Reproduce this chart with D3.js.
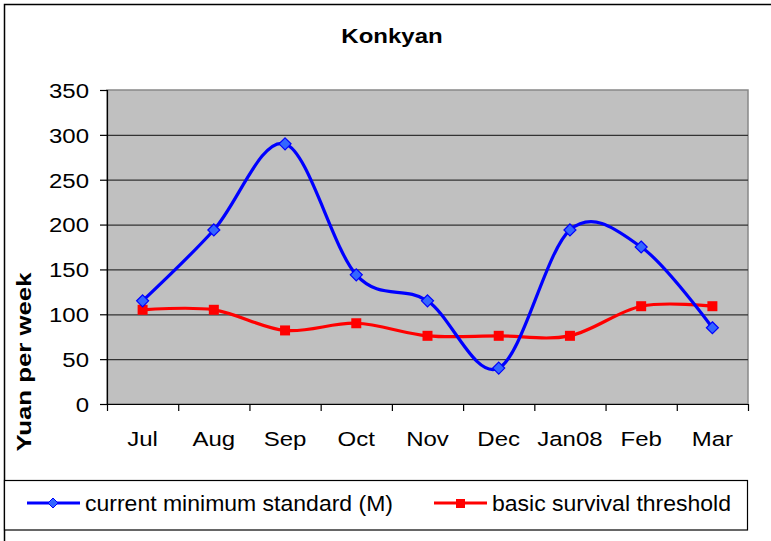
<!DOCTYPE html>
<html><head><meta charset="utf-8">
<script src="https://cdn.jsdelivr.net/npm/d3@7"></script>
<style>
html,body{margin:0;padding:0;background:#fff;}
svg text{font-family:"Liberation Sans",Arial,sans-serif;fill:#000;}
</style></head>
<body><svg id="c" width="771" height="541"></svg>
<script>
const categories = ["Jul","Aug","Sep","Oct","Nov","Dec","Jan08","Feb","Mar"];
const currentMinimum = [115,194,290,144,115,40,194,175,85];
const survivalThreshold = [105,105,82,90,76,76,76,109,109];
const yTicks = [0,50,100,150,200,250,300,350];
const seriesNames = ["current minimum standard (M)","basic survival threshold"];
const titleText = "Konkyan";
const yTitle = "Yuan per week";

const svg = d3.select("#c");
const M = {left:107, right:748, top:90, bottom:404};
const STRETCH = 1.17;

function stretch(sel, f){
  sel.each(function(){
    const l = this.getComputedTextLength();
    d3.select(this).attr("textLength", l*f).attr("lengthAdjust","spacingAndGlyphs");
  });
}

// outer border
svg.append("rect").attr("x",4.5).attr("y",4.5).attr("width",820).attr("height",620)
  .attr("fill","#fff").attr("stroke","#000").attr("stroke-width",1.5);

const x = d3.scaleBand().domain(categories).range([M.left,M.right]).paddingInner(0).paddingOuter(0);
const y = d3.scaleLinear().domain([0,350]).range([M.bottom,M.top]);
const cx = d => x(d) + x.bandwidth()/2;

// plot area
svg.append("rect").attr("x",M.left).attr("y",M.top).attr("width",M.right-M.left).attr("height",M.bottom-M.top)
  .attr("fill","#C0C0C0").attr("stroke","#888").attr("stroke-width",1.5);

// gridlines
svg.append("g").selectAll("line").data(yTicks.filter(v=>v>0 && v<350)).join("line")
  .attr("x1",M.left).attr("x2",M.right).attr("y1",d=>y(d)+0.5).attr("y2",d=>y(d)+0.5)
  .attr("stroke","#333").attr("stroke-width",1.2);

// y axis
const ya = svg.append("g").attr("transform",`translate(${M.left},0)`)
  .call(d3.axisLeft(y).tickValues(yTicks).tickSize(7).tickPadding(11));
ya.select(".domain").attr("stroke","#000").attr("stroke-width",1.2).attr("d",`M0.5,${M.top}V${M.bottom}`);
ya.selectAll(".tick line").attr("stroke","#000").attr("stroke-width",1.2);
ya.selectAll(".tick text").attr("font-size","20.5px").attr("font-family","Liberation Sans, Arial, sans-serif").attr("fill","#000").attr("dy","0.36em");
stretch(ya.selectAll(".tick text"), STRETCH);

// x axis line and boundary ticks
svg.append("line").attr("x1",M.left).attr("x2",M.right).attr("y1",M.bottom+0.5).attr("y2",M.bottom+0.5)
  .attr("stroke","#000").attr("stroke-width",1.2);
const bounds = categories.map(c=>x(c)).concat([x.range()[1]]);
svg.append("g").selectAll("line").data(bounds).join("line")
  .attr("x1",d=>d+0.5).attr("x2",d=>d+0.5).attr("y1",M.bottom).attr("y2",M.bottom+7)
  .attr("stroke","#000").attr("stroke-width",1.2);
const xl = svg.append("g").selectAll("text").data(categories).join("text")
  .attr("x",d=>cx(d)).attr("y",446).attr("text-anchor","middle").attr("font-size","20.5px").text(d=>d);
stretch(xl, STRETCH);

// title
const tt = svg.append("text").attr("x",392).attr("y",43).attr("text-anchor","middle")
  .attr("font-size","20.5px").attr("font-weight","bold").text(titleText);
stretch(tt, STRETCH);

// y title
svg.append("text").attr("transform","translate(31,362) rotate(-90)").attr("text-anchor","middle")
  .attr("font-size","21px").attr("font-weight","bold").attr("textLength",179).attr("lengthAdjust","spacingAndGlyphs").text(yTitle);

// lines
const line = d3.line().x((d,i)=>cx(categories[i])).y(d=>y(d)).curve(d3.curveCatmullRom.alpha(0));
svg.append("path").datum(survivalThreshold).attr("d",line).attr("fill","none").attr("stroke","#FF0000").attr("stroke-width",3.2);
svg.append("path").datum(currentMinimum).attr("d",line).attr("fill","none").attr("stroke","#0000FF").attr("stroke-width",3.2);

const diamond = (s)=>`M0,${-s}L${s},0L0,${s}L${-s},0Z`;
svg.append("g").selectAll("rect").data(survivalThreshold).join("rect")
  .attr("x",(d,i)=>cx(categories[i])-5).attr("y",d=>y(d)-5).attr("width",10).attr("height",10)
  .attr("fill","#FF0000");
svg.append("g").selectAll("path").data(currentMinimum).join("path")
  .attr("transform",(d,i)=>`translate(${cx(categories[i])},${y(d)})`).attr("d",diamond(6))
  .attr("fill","#3366FF").attr("stroke","#0000FF").attr("stroke-width",1.2);

// legend
svg.append("rect").attr("x",4.5).attr("y",480.5).attr("width",743).attr("height",49.5)
  .attr("fill","#fff").attr("stroke","#000").attr("stroke-width",1.2);
const lg = svg.append("g");
lg.append("line").attr("x1",27).attr("x2",80).attr("y1",503).attr("y2",503).attr("stroke","#0000FF").attr("stroke-width",3.2);
lg.append("path").attr("transform","translate(53,503)").attr("d",diamond(5)).attr("fill","#3366FF").attr("stroke","#0000FF").attr("stroke-width",1);
lg.append("text").attr("x",85).attr("y",511).attr("font-size","22px").attr("textLength",308).attr("lengthAdjust","spacingAndGlyphs").text(seriesNames[0]);
lg.append("line").attr("x1",434).attr("x2",487).attr("y1",503).attr("y2",503).attr("stroke","#FF0000").attr("stroke-width",3.2);
lg.append("rect").attr("x",456).attr("y",499).attr("width",9).attr("height",9).attr("fill","#FF0000");
lg.append("text").attr("x",492).attr("y",511).attr("font-size","22px").attr("textLength",239).attr("lengthAdjust","spacingAndGlyphs").text(seriesNames[1]);
</script></body></html>
